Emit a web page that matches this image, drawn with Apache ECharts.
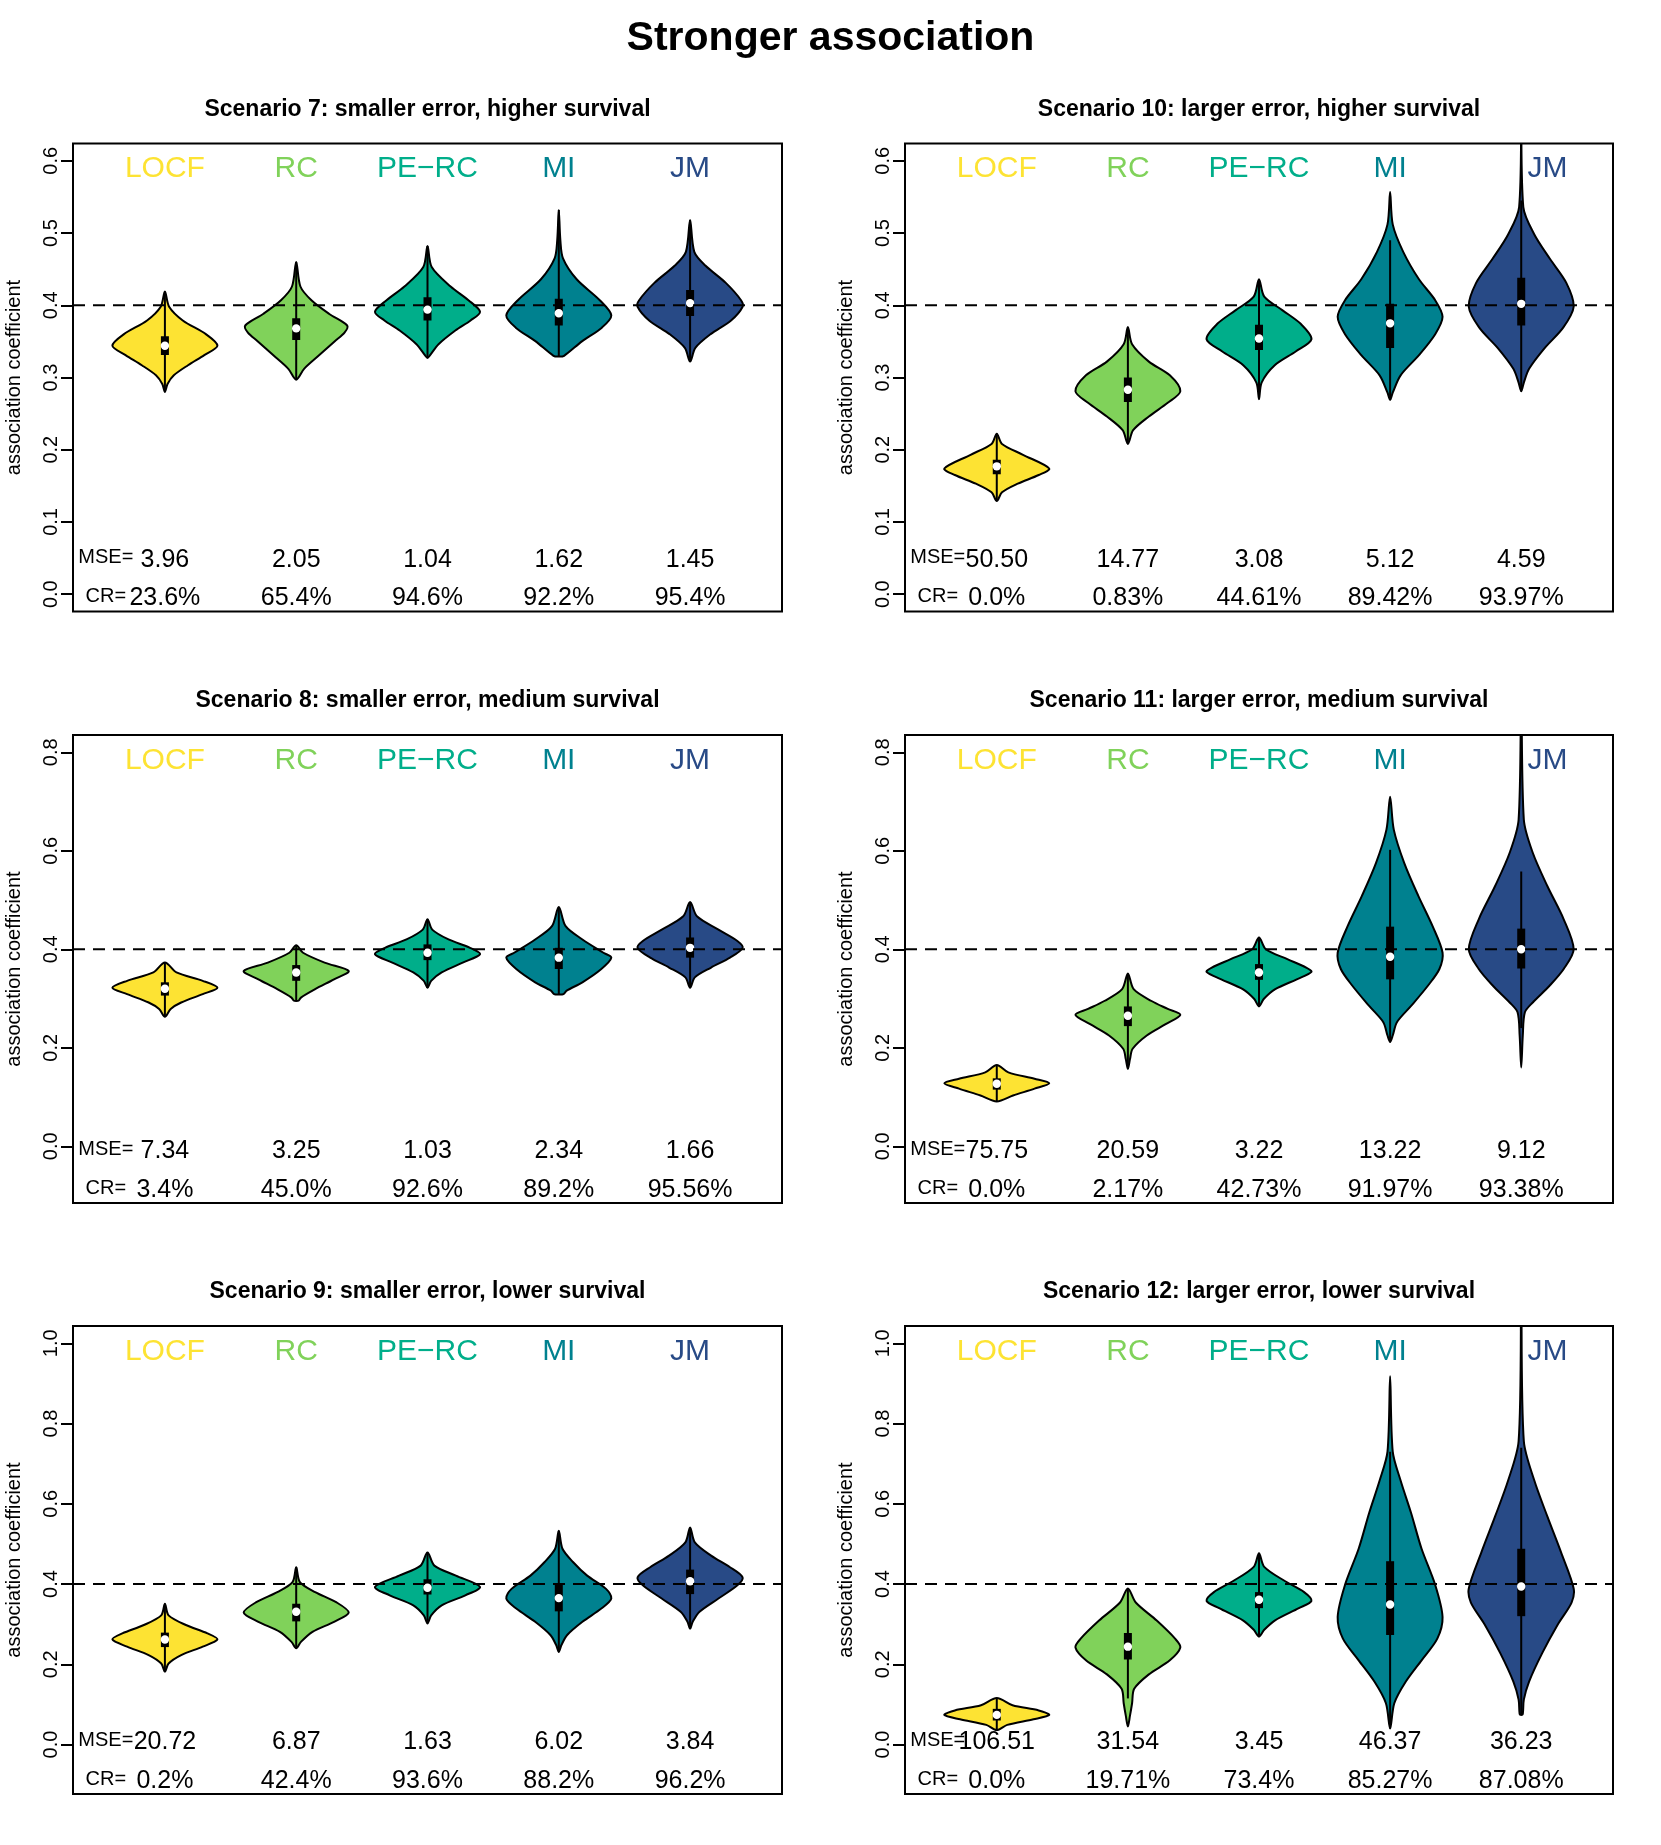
<!DOCTYPE html>
<html>
<head>
<meta charset="utf-8">
<script src="https://cdn.jsdelivr.net/npm/echarts@6/dist/echarts.min.js"></script>
<style>
html, body { margin: 0; padding: 0; background: #fff; }
#chart { width: 1661px; height: 1845px; }
</style>
</head>
<body>
<div id="chart"></div>
<script>
var methods = ['LOCF', 'RC', 'PE\u2212RC', 'MI', 'JM'];
var methodColors = ['#FDE333', '#80D25A', '#00AE8A', '#00818F', '#284A86'];
var trueValue = 0.4;

var ticksTop = [0, 0.1, 0.2, 0.3, 0.4, 0.5, 0.6];
var ticksMid = [0, 0.2, 0.4, 0.6, 0.8];
var ticksLow = [0, 0.2, 0.4, 0.6, 0.8, 1.0];
var ylimTop = [0, 0.6];
var ylimMid = [-0.08, 0.8];
var ylimLow = [-0.08, 1.0];

// box = [lower whisker, q1, median, q3, upper whisker]
// dens = [value, relative density] from bottom tip to top tip

// Scenario 7
var mse7 = ['3.96', '2.05', '1.04', '1.62', '1.45'];
var cr7 = ['23.6%', '65.4%', '94.6%', '92.2%', '95.4%'];
var box7 = [
  [0.280, 0.331, 0.344, 0.357, 0.419],
  [0.297, 0.352, 0.368, 0.382, 0.460],
  [0.327, 0.379, 0.394, 0.411, 0.482],
  [0.329, 0.372, 0.389, 0.409, 0.532],
  [0.322, 0.385, 0.403, 0.421, 0.518]
];
var dens7 = [
  [[0.280, 0], [0.291, 0.05], [0.303, 0.17], [0.317, 0.44], [0.331, 0.75], [0.344, 1], [0.360, 0.78], [0.379, 0.34], [0.398, 0.08], [0.419, 0]],
  [[0.297, 0], [0.312, 0.15], [0.331, 0.44], [0.350, 0.73], [0.362, 0.92], [0.372, 0.97], [0.388, 0.63], [0.407, 0.29], [0.426, 0.08], [0.460, 0]],
  [[0.327, 0], [0.331, 0.05], [0.346, 0.21], [0.365, 0.53], [0.379, 0.82], [0.391, 1], [0.407, 0.78], [0.426, 0.44], [0.453, 0.08], [0.482, 0]],
  [[0.329, 0], [0.330, 0.1], [0.350, 0.44], [0.369, 0.82], [0.386, 1], [0.407, 0.78], [0.436, 0.34], [0.465, 0.08], [0.490, 0.03], [0.532, 0]],
  [[0.322, 0], [0.341, 0.1], [0.360, 0.39], [0.379, 0.78], [0.398, 1], [0.407, 0.97], [0.431, 0.68], [0.455, 0.29], [0.474, 0.08], [0.518, 0]]
];

// Scenario 10
var mse10 = ['50.50', '14.77', '3.08', '5.12', '4.59'];
var cr10 = ['0.0%', '0.83%', '44.61%', '89.42%', '93.97%'];
var box10 = [
  [0.129, 0.166, 0.177, 0.186, 0.222],
  [0.208, 0.266, 0.283, 0.300, 0.370],
  [0.270, 0.338, 0.354, 0.373, 0.436],
  [0.269, 0.341, 0.375, 0.402, 0.490],
  [0.281, 0.372, 0.402, 0.438, 0.545]
];
var dens10 = [
  [[0.129, 0], [0.141, 0.1], [0.153, 0.4], [0.165, 0.8], [0.174, 1], [0.193, 0.5], [0.208, 0.1], [0.222, 0]],
  [[0.208, 0], [0.227, 0.1], [0.246, 0.4], [0.265, 0.76], [0.281, 1], [0.303, 0.8], [0.322, 0.4], [0.346, 0.08], [0.370, 0]],
  [[0.270, 0], [0.293, 0.05], [0.317, 0.3], [0.336, 0.7], [0.353, 1], [0.374, 0.8], [0.393, 0.45], [0.412, 0.1], [0.436, 0]],
  [[0.269, 0], [0.279, 0.05], [0.303, 0.2], [0.331, 0.55], [0.360, 0.86], [0.384, 1], [0.407, 0.86], [0.436, 0.55], [0.474, 0.25], [0.512, 0.05], [0.557, 0]],
  [[0.281, 0], [0.293, 0.05], [0.312, 0.15], [0.341, 0.45], [0.369, 0.8], [0.398, 1], [0.431, 0.86], [0.464, 0.55], [0.498, 0.25], [0.536, 0.04], [0.700, 0]]
];

// Scenario 8
var mse8 = ['7.34', '3.25', '1.03', '2.34', '1.66'];
var cr8 = ['3.4%', '45.0%', '92.6%', '89.2%', '95.56%'];
var box8 = [
  [0.263, 0.306, 0.320, 0.333, 0.373],
  [0.295, 0.336, 0.353, 0.368, 0.408],
  [0.322, 0.378, 0.393, 0.410, 0.461],
  [0.308, 0.360, 0.383, 0.403, 0.486],
  [0.322, 0.383, 0.403, 0.424, 0.496]
];
var dens8 = [
  [[0.263, 0], [0.279, 0.11], [0.292, 0.31], [0.309, 0.72], [0.322, 1], [0.336, 0.72], [0.353, 0.22], [0.373, 0]],
  [[0.295, 0], [0.296, 0.05], [0.302, 0.09], [0.319, 0.36], [0.339, 0.72], [0.356, 1], [0.373, 0.54], [0.393, 0.13], [0.408, 0]],
  [[0.322, 0], [0.336, 0.07], [0.353, 0.27], [0.373, 0.67], [0.390, 1], [0.403, 0.81], [0.420, 0.4], [0.440, 0.09], [0.461, 0]],
  [[0.308, 0], [0.309, 0.09], [0.316, 0.15], [0.333, 0.45], [0.360, 0.81], [0.383, 1], [0.393, 0.85], [0.420, 0.45], [0.447, 0.13], [0.486, 0]],
  [[0.322, 0], [0.343, 0.09], [0.363, 0.4], [0.383, 0.76], [0.403, 1], [0.417, 0.9], [0.440, 0.54], [0.467, 0.13], [0.496, 0]]
];

// Scenario 11
var mse11 = ['75.75', '20.59', '3.22', '13.22', '9.12'];
var cr11 = ['0.0%', '2.17%', '42.73%', '91.97%', '93.38%'];
var box11 = [
  [0.091, 0.115, 0.127, 0.138, 0.165],
  [0.157, 0.244, 0.265, 0.284, 0.351],
  [0.284, 0.338, 0.353, 0.370, 0.424],
  [0.212, 0.339, 0.385, 0.446, 0.602],
  [0.240, 0.361, 0.400, 0.442, 0.558]
];
var dens11 = [
  [[0.091, 0], [0.103, 0.31], [0.117, 0.72], [0.128, 1], [0.137, 0.72], [0.150, 0.22], [0.165, 0]],
  [[0.157, 0], [0.177, 0.04], [0.198, 0.09], [0.225, 0.36], [0.248, 0.72], [0.267, 1], [0.279, 0.76], [0.295, 0.45], [0.319, 0.11], [0.351, 0]],
  [[0.284, 0], [0.299, 0.09], [0.319, 0.31], [0.339, 0.72], [0.354, 1], [0.363, 0.9], [0.380, 0.54], [0.400, 0.13], [0.424, 0]],
  [[0.212, 0], [0.225, 0.05], [0.252, 0.13], [0.285, 0.4], [0.326, 0.72], [0.360, 0.94], [0.393, 1], [0.447, 0.81], [0.508, 0.54], [0.575, 0.27], [0.643, 0.07], [0.710, 0]],
  [[0.160, 0], [0.225, 0.03], [0.272, 0.07], [0.292, 0.22], [0.326, 0.54], [0.360, 0.81], [0.400, 1], [0.461, 0.81], [0.528, 0.5], [0.596, 0.22], [0.663, 0.05], [0.950, 0]]
];

// Scenario 9
var mse9 = ['20.72', '6.87', '1.63', '6.02', '3.84'];
var cr9 = ['0.2%', '42.4%', '93.6%', '88.2%', '96.2%'];
var box9 = [
  [0.182, 0.243, 0.262, 0.279, 0.351],
  [0.240, 0.307, 0.331, 0.351, 0.442],
  [0.302, 0.374, 0.391, 0.412, 0.479],
  [0.231, 0.332, 0.365, 0.398, 0.533],
  [0.289, 0.375, 0.407, 0.436, 0.541]
];
var dens9 = [
  [[0.182, 0], [0.202, 0.07], [0.223, 0.31], [0.244, 0.72], [0.262, 1], [0.277, 0.81], [0.298, 0.4], [0.322, 0.07], [0.351, 0]],
  [[0.240, 0], [0.256, 0.09], [0.281, 0.31], [0.306, 0.72], [0.329, 1], [0.355, 0.76], [0.380, 0.36], [0.405, 0.07], [0.442, 0]],
  [[0.302, 0], [0.322, 0.07], [0.347, 0.27], [0.372, 0.72], [0.393, 1], [0.421, 0.54], [0.446, 0.13], [0.479, 0]],
  [[0.231, 0], [0.248, 0.05], [0.273, 0.16], [0.306, 0.45], [0.339, 0.81], [0.364, 1], [0.388, 0.9], [0.421, 0.54], [0.455, 0.27], [0.488, 0.07], [0.533, 0]],
  [[0.289, 0], [0.306, 0.05], [0.331, 0.18], [0.364, 0.54], [0.397, 0.9], [0.417, 1], [0.442, 0.76], [0.471, 0.4], [0.504, 0.09], [0.541, 0]]
];

// Scenario 12
var mse12 = ['106.51', '31.54', '3.45', '46.37', '36.23'];
var cr12 = ['0.0%', '19.71%', '73.4%', '85.27%', '87.08%'];
var box12 = [
  [0.036, 0.060, 0.074, 0.089, 0.116],
  [0.115, 0.212, 0.244, 0.278, 0.389],
  [0.269, 0.340, 0.361, 0.380, 0.477],
  [0.040, 0.273, 0.349, 0.457, 0.730],
  [0.074, 0.320, 0.394, 0.488, 0.740]
];
var dens12 = [
  [[0.036, 0], [0.049, 0.2], [0.063, 0.7], [0.074, 1], [0.085, 0.8], [0.098, 0.3], [0.116, 0]],
  [[0.045, 0], [0.072, 0.04], [0.103, 0.08], [0.139, 0.12], [0.175, 0.4], [0.210, 0.8], [0.242, 1], [0.264, 0.9], [0.309, 0.55], [0.354, 0.15], [0.389, 0]],
  [[0.269, 0], [0.286, 0.1], [0.309, 0.3], [0.340, 0.76], [0.358, 1], [0.380, 0.86], [0.407, 0.5], [0.443, 0.1], [0.477, 0]],
  [[0.040, 0], [0.103, 0.08], [0.157, 0.3], [0.210, 0.6], [0.264, 0.9], [0.318, 1], [0.398, 0.86], [0.488, 0.6], [0.577, 0.4], [0.658, 0.2], [0.730, 0.05], [0.918, 0]],
  [[0.074, 0], [0.076, 0.03], [0.112, 0.05], [0.157, 0.15], [0.228, 0.4], [0.300, 0.7], [0.354, 0.96], [0.389, 1], [0.479, 0.76], [0.568, 0.5], [0.658, 0.25], [0.756, 0.05], [1.100, 0]]
];

var FONT = '"Liberation Sans", Arial, Helvetica, sans-serif';
var colLeft = [73, 905];
var colWidth = [709, 708];
var rowTop = [143.5, 735, 1326];
var rowHeight = 468;
var rowTicks = [ticksTop, ticksMid, ticksLow];
var rowLims = [ylimTop, ylimMid, ylimLow];
var halfWidth = 0.4;      // widest point of each violin, in category units
var jmNameShift = [0, 0.2]; // right column moves the JM label off the long tail

var panels = [
  { title: 'Scenario 7: smaller error, higher survival', mse: mse7, cr: cr7, box: box7, dens: dens7, row: 0, col: 0 },
  { title: 'Scenario 10: larger error, higher survival', mse: mse10, cr: cr10, box: box10, dens: dens10, row: 0, col: 1 },
  { title: 'Scenario 8: smaller error, medium survival', mse: mse8, cr: cr8, box: box8, dens: dens8, row: 1, col: 0 },
  { title: 'Scenario 11: larger error, medium survival', mse: mse11, cr: cr11, box: box11, dens: dens11, row: 1, col: 1 },
  { title: 'Scenario 9: smaller error, lower survival', mse: mse9, cr: cr9, box: box9, dens: dens9, row: 2, col: 0 },
  { title: 'Scenario 12: larger error, lower survival', mse: mse12, cr: cr12, box: box12, dens: dens12, row: 2, col: 1 }
];

function axisRange(lim) {
  var ext = 0.04 * (lim[1] - lim[0]);
  return [lim[0] - ext, lim[1] + ext];
}

function violinRenderer(p, yr) {
  return function (params, api) {
    var i = params.dataIndex;
    var cx = i + 1;
    var dens = p.dens[i];
    var box = p.box[i];
    var right = [], left = [];
    for (var k = 0; k < dens.length; k++) {
      right.push(api.coord([cx + dens[k][1] * halfWidth, dens[k][0]]));
    }
    for (var k2 = dens.length - 2; k2 >= 1; k2--) {
      left.push(api.coord([cx - dens[k2][1] * halfWidth, dens[k2][0]]));
    }
    var pts = right.concat(left);
    var lo = api.coord([cx, box[0]]);
    var q1 = api.coord([cx, box[1]]);
    var med = api.coord([cx, box[2]]);
    var q3 = api.coord([cx, box[3]]);
    var hi = api.coord([cx, box[4]]);
    var top = api.coord([cx, yr[1]])[1];
    var bottom = api.coord([cx, yr[0]])[1];
    var labX = api.coord([0.55, 0])[0];
    var nameX = api.coord([cx + (i === 4 ? jmNameShift[p.col] : 0), 0])[0];

    var children = [
      { type: 'polygon', shape: { points: pts, smooth: 0.3 },
        style: { fill: methodColors[i], stroke: '#000', lineWidth: 2 } },
      { type: 'line', shape: { x1: lo[0], y1: lo[1], x2: hi[0], y2: hi[1] },
        style: { stroke: '#000', lineWidth: 2 } },
      { type: 'rect', shape: { x: q3[0] - 4, y: q3[1], width: 8, height: q1[1] - q3[1] },
        style: { fill: '#000' } },
      { type: 'circle', shape: { cx: med[0], cy: med[1], r: 4.2 },
        style: { fill: '#fff' } },
      { type: 'text', style: { text: methods[i], x: nameX, y: top + 25.5, fill: methodColors[i],
        fontSize: 30, fontFamily: FONT, align: 'center', verticalAlign: 'middle' } },
      { type: 'text', style: { text: p.mse[i], x: med[0], y: bottom - 51.5, fill: '#000',
        fontSize: 25, fontFamily: FONT, align: 'center', verticalAlign: 'middle' } },
      { type: 'text', style: { text: p.cr[i], x: med[0], y: bottom - 13, fill: '#000',
        fontSize: 25, fontFamily: FONT, align: 'center', verticalAlign: 'middle' } }
    ];
    if (i === 0) {
      children.push({ type: 'text', style: { text: 'MSE=', x: labX, y: bottom - 54, fill: '#000',
        fontSize: 20, fontFamily: FONT, align: 'center', verticalAlign: 'middle' } });
      children.push({ type: 'text', style: { text: 'CR=', x: labX, y: bottom - 15, fill: '#000',
        fontSize: 20, fontFamily: FONT, align: 'center', verticalAlign: 'middle' } });
    }
    return { type: 'group', children: children };
  };
}

var grids = [], xAxes = [], yAxes = [], series = [];
var graphics = [{
  type: 'text', x: 830.5, y: 38.5,
  style: { text: 'Stronger association', fontSize: 41, fontWeight: 'bold', fontFamily: FONT,
    fill: '#000', align: 'center', verticalAlign: 'middle' }
}];

panels.forEach(function (p, k) {
  var yr = axisRange(rowLims[p.row]);
  var ticks = rowTicks[p.row];
  grids.push({
    left: colLeft[p.col], top: rowTop[p.row], width: colWidth[p.col], height: rowHeight,
    show: true, borderColor: '#000', borderWidth: 2, backgroundColor: 'transparent'
  });
  xAxes.push({ gridIndex: k, type: 'value', min: 0.3, max: 5.7, show: false });
  yAxes.push({
    gridIndex: k, type: 'value', min: yr[0], max: yr[1],
    axisLine: { show: false },
    axisTick: { show: true, length: 12, inside: false, customValues: ticks,
      lineStyle: { color: '#000', width: 2 } },
    axisLabel: { show: true, customValues: ticks, rotate: 90, margin: 12, fontSize: 20,
      fontFamily: FONT, color: '#000', formatter: function (v) { return v.toFixed(1); } },
    splitLine: { show: false },
    name: 'association coefficient', nameLocation: 'middle', nameGap: 49,
    nameTextStyle: { fontSize: 20, fontFamily: FONT, color: '#000' }
  });
  series.push({
    type: 'custom', xAxisIndex: k, yAxisIndex: k, clip: true, z: 2,
    data: p.box.map(function (b, i) { return [i + 1, b[2]]; }),
    renderItem: violinRenderer(p, yr)
  });
  series.push({
    type: 'line', xAxisIndex: k, yAxisIndex: k, z: 5, silent: true, symbol: 'none',
    data: [[0.3, trueValue], [5.7, trueValue]],
    lineStyle: { color: '#000', width: 2, type: [12, 8] }
  });
  graphics.push({
    type: 'text', x: colLeft[p.col] + colWidth[p.col] / 2, y: rowTop[p.row] - 34,
    style: { text: p.title, fontSize: 23, fontWeight: 'bold', fontFamily: FONT,
      fill: '#000', align: 'center', verticalAlign: 'middle' }
  });
});

var chart = echarts.init(document.getElementById('chart'));
chart.setOption({
  animation: false,
  backgroundColor: '#fff',
  grid: grids,
  xAxis: xAxes,
  yAxis: yAxes,
  series: series,
  graphic: graphics
});
</script>
</body>
</html>
